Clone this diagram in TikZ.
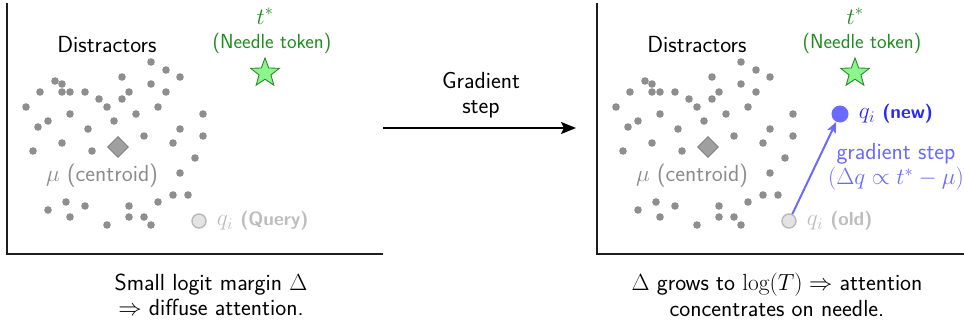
\RequirePackage{fix-cm}
\documentclass[tikz,border=0pt]{standalone}
\usepackage{fontspec}
\usetikzlibrary{shapes.geometric,arrows.meta}

\definecolor{dotgray}{HTML}{8E8E8E}
\definecolor{mugray}{HTML}{8C8C8C}
\definecolor{querygray}{HTML}{BDBDBD}
\definecolor{needlegreen}{HTML}{1E8C1E}
\definecolor{starfill}{HTML}{8CF58C}
\definecolor{starline}{HTML}{2A8A2A}
\definecolor{stepblue}{HTML}{6A6AFF}
\definecolor{newblue}{HTML}{2B2BF0}
\definecolor{axisline}{HTML}{1E1E1E}

% distractor positions inside one panel
\def\dotlist{151/62, 166/70, 180/77, 122/77, 55/81, 62/84, 151/84,
  40/92, 62/92, 70/92, 85/92, 129/92, 166/92, 99/99, 122/99,
  26/107, 107/107, 158/107, 70/114, 136/114, 203/114, 48/121, 114/121,
  38/127, 88/129, 180/129, 144/136, 203/136, 62/143, 173/143,
  33/151, 92/151, 195/158, 180/173, 173/195, 188/195,
  66/202, 158/202, 48/210, 85/206, 129/206, 70/217, 129/217, 144/217,
  107/225, 151/225}

% font sizes used in the figure
\newcommand{\mainsize}{\fontsize{23.3}{25.5}\selectfont}
\newcommand{\labelsize}{\fontsize{20.4}{22}\selectfont}
\newcommand{\tagsize}{\fontsize{19}{22}\selectfont}

\tikzset{
  axes/.style={draw=axisline, line width=2.2pt},
  dotn/.style={circle, fill=dotgray, minimum size=7.6pt, inner sep=0pt},
  centroid/.style={diamond, fill=dotgray!85, draw=dotgray!120, line width=0.8pt,
    minimum width=21pt, minimum height=21pt, inner sep=0pt},
  needle/.style={star, star points=5, star point ratio=2.4, fill=starfill,
    draw=starline, line width=0.9pt, minimum size=30pt, inner sep=0pt},
  txt/.style={inner sep=0pt},
  smalltxt/.style={inner sep=0pt, font=\labelsize\sffamily},
  qtag/.style={inner sep=0pt, anchor=west},
  qold/.style={circle, fill=gray!22, draw=gray!55, line width=1.4pt,
    minimum size=14pt, inner sep=0pt},
  qnew/.style={circle, fill=stepblue, minimum size=17pt, inner sep=0pt},
  qarrow/.style={draw=stepblue, line width=2pt,
    -{Stealth[length=11pt, width=9pt, inset=2.5pt]}},
  mainarrow/.style={draw=black, line width=2pt,
    -{Stealth[length=15pt, width=12pt, inset=3pt]}},
}

\begin{document}
\begin{tikzpicture}[x=1pt, y=-1pt, font=\mainsize\sffamily]
\useasboundingbox (0,0) rectangle (964,327);

% the two panels share the same distractor cloud
\foreach \P/\dx in {L/0, R/590} {
  \begin{scope}[xshift=\dx]
    \coordinate (top\P) at (7,3);
    \coordinate (corner\P) at (7,254);
    \coordinate (end\P) at ({min(383,964-\dx)},254);
    \draw[axes] (top\P) -- (corner\P) -- (end\P);

    \node[txt] (dist\P) at (107,45) {Distractors};
    \foreach \x/\y [count=\k] in \dotlist
      \node[dotn] (d\P\k) at (\x,\y) {};
    \node[centroid] (cen\P) at (118,147) {};
    \node[txt, text=mugray] (mu\P) at (102,176) {$\mu$ (centroid)};

    \node[txt, text=needlegreen] (ts\P) at (265,16) {$t^{*}$};
    \node[smalltxt, text=needlegreen] (nt\P) at (272,43) {(Needle token)};
    \node[needle] (star\P) at (265,73) {};

    \node[qold] (qold\P) at (199,221) {};
  \end{scope}
}

% query labels
\node[qtag, text=querygray] (qlabL) at ([xshift=10pt]qoldL.east)
  {$q_i$\ {\tagsize\bfseries (Query)}};
\node[qtag, text=querygray] (qlabR) at ([xshift=10pt]qoldR.east)
  {$q_i$\ {\tagsize\bfseries (old)}};

% updated query after the step
\node[qnew] (qnewR) at (840,114) {};
\node[qtag, text=newblue] (qnewlab) at ([xshift=10pt]qnewR.east)
  {$q_i$\ {\tagsize\bfseries (new)}};
\draw[qarrow] (qoldR) -- (qnewR);
\node[txt, text=stepblue, align=center] (gslab) at (896,167)
  {gradient step\\$(\Delta q \propto t^{*} - \mu)$};

% transition between the panels
\coordinate (arrS) at (383,128);
\coordinate (arrE) at (576,128);
\draw[mainarrow] (arrS) -- (arrE);
\node[txt, align=center] (steplab) at (481,95) {Gradient\\step};

% captions
\node[txt, align=center] (capL) at (211,295)
  {Small logit margin $\Delta$\\$\Rightarrow$ diffuse attention.};
\node[txt, align=center] (capR) at (777,295)
  {$\Delta$ grows to $\log(T) \Rightarrow$ attention\\concentrates on needle.};
\end{tikzpicture}
\end{document}
